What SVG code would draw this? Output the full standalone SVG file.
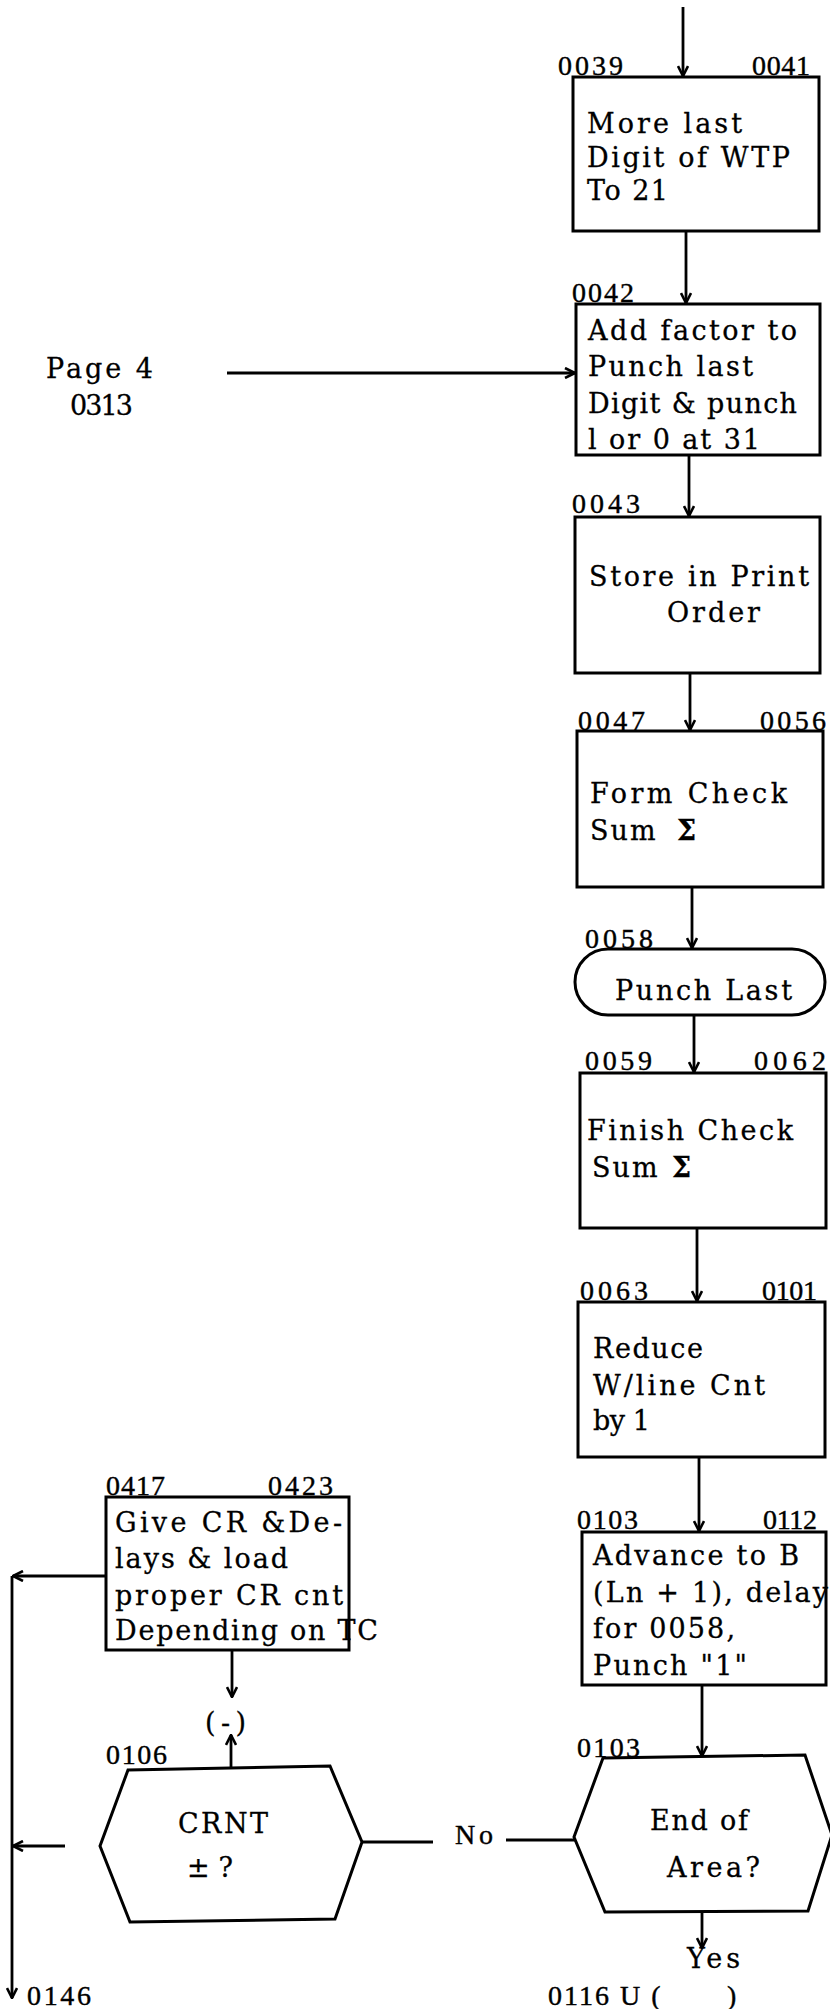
<svg xmlns="http://www.w3.org/2000/svg" width="830" height="2009" viewBox="0 0 830 2009">
<style>
.bg{fill:#fff}
.box{fill:#fff;stroke:#000;stroke-width:3}
.t{font-family:"DejaVu Serif","Liberation Serif",serif;font-size:27px;fill:#000;stroke:#000;stroke-width:0.3}
.l{font-family:"Liberation Serif","DejaVu Serif",serif;font-size:28px;fill:#000;stroke:#000;stroke-width:0.4}
.c{fill:none;stroke:#000;stroke-width:2.8}
.sg{font-weight:bold}
</style>
<defs>
<marker id="ah" viewBox="0 0 12 12" refX="11" refY="6" markerWidth="12" markerHeight="12" markerUnits="userSpaceOnUse" orient="auto">
<path d="M1,1 L11,6 L1,11" fill="none" stroke="#000" stroke-width="2.6"/>
</marker>
</defs>
<rect class="bg" x="0" y="0" width="830" height="2009"/>

<g id="connectors">
<path class="c" d="M683,7 V76" marker-end="url(#ah)"/>
<path class="c" d="M686,231 V303" marker-end="url(#ah)"/>
<path class="c" d="M227,373 H575" marker-end="url(#ah)"/>
<path class="c" d="M689,455 V516" marker-end="url(#ah)"/>
<path class="c" d="M690,673 V730" marker-end="url(#ah)"/>
<path class="c" d="M692,887 V948" marker-end="url(#ah)"/>
<path class="c" d="M694,1015 V1072" marker-end="url(#ah)"/>
<path class="c" d="M697,1228 V1301" marker-end="url(#ah)"/>
<path class="c" d="M699,1457 V1531" marker-end="url(#ah)"/>
<path class="c" d="M702,1685 V1756" marker-end="url(#ah)"/>
<path class="c" d="M702,1912 V1948" marker-end="url(#ah)"/>
<path class="c" d="M575,1840 H506"/>
<path class="c" d="M433,1842 H362"/>
<path class="c" d="M231,1768 V1735" marker-end="url(#ah)"/>
<path class="c" d="M232,1650 V1697" marker-end="url(#ah)"/>
<path class="c" d="M65,1846 H13" marker-end="url(#ah)"/>
<path class="c" d="M106,1576 H13" marker-end="url(#ah)"/>
<path class="c" d="M12,1576 V1998" marker-end="url(#ah)"/>
</g>

<g id="page4">
<text class="t" x="46" y="378" textLength="107" lengthAdjust="spacing">Page 4</text>
<text class="t" x="70" y="415" textLength="63" lengthAdjust="spacing">0313</text>
</g>

<g id="n0039">
<rect class="box" x="573" y="77" width="246" height="154"/>
<text class="l" x="558" y="75" textLength="65" lengthAdjust="spacing">0039</text>
<text class="l" x="752" y="75" textLength="58" lengthAdjust="spacing">0041</text>
<text class="t" x="587" y="133" textLength="155" lengthAdjust="spacing">More last</text>
<text class="t" x="587" y="167" textLength="203" lengthAdjust="spacing">Digit of WTP</text>
<text class="t" x="587" y="200" textLength="81" lengthAdjust="spacing">To 21</text>
</g>

<g id="n0042">
<rect class="box" x="576" y="304" width="244" height="151"/>
<text class="l" x="572" y="302" textLength="62" lengthAdjust="spacing">0042</text>
<text class="t" x="588" y="340" textLength="209" lengthAdjust="spacing">Add factor to</text>
<text class="t" x="588" y="376" textLength="165" lengthAdjust="spacing">Punch last</text>
<text class="t" x="588" y="413" textLength="209" lengthAdjust="spacing">Digit &amp; punch</text>
<text class="t" x="588" y="449" textLength="172" lengthAdjust="spacing">l or 0 at 31</text>
</g>

<g id="n0043">
<rect class="box" x="575" y="517" width="245" height="156"/>
<text class="l" x="572" y="513" textLength="68" lengthAdjust="spacing">0043</text>
<text class="t" x="589" y="586" textLength="220" lengthAdjust="spacing">Store in Print</text>
<text class="t" x="667" y="622" textLength="93" lengthAdjust="spacing">Order</text>
</g>

<g id="n0047">
<rect class="box" x="577" y="731" width="246" height="156"/>
<text class="l" x="578" y="730" textLength="67" lengthAdjust="spacing">0047</text>
<text class="l" x="760" y="730" textLength="66" lengthAdjust="spacing">0056</text>
<text class="t" x="590" y="803" textLength="197" lengthAdjust="spacing">Form Check</text>
<text class="t" x="590" y="840" letter-spacing="2">Sum<tspan class="sg" x="677">Σ</tspan></text>
</g>

<g id="n0058">
<rect class="box" x="575" y="949" width="250" height="66" rx="33" ry="33"/>
<text class="l" x="585" y="948" textLength="68" lengthAdjust="spacing">0058</text>
<text class="t" x="615" y="1000" textLength="177" lengthAdjust="spacing">Punch Last</text>
</g>

<g id="n0059">
<rect class="box" x="580" y="1073" width="246" height="155"/>
<text class="l" x="585" y="1070" textLength="67" lengthAdjust="spacing">0059</text>
<text class="l" x="754" y="1070" textLength="72" lengthAdjust="spacing">0062</text>
<text class="t" x="587" y="1140" textLength="206" lengthAdjust="spacing">Finish Check</text>
<text class="t" x="592" y="1177" letter-spacing="2">Sum<tspan class="sg" x="672">Σ</tspan></text>
</g>

<g id="n0063">
<rect class="box" x="578" y="1302" width="247" height="155"/>
<text class="l" x="580" y="1300" textLength="68" lengthAdjust="spacing">0063</text>
<text class="l" x="762" y="1300" textLength="55" lengthAdjust="spacing">0101</text>
<text class="t" x="593" y="1358" textLength="110" lengthAdjust="spacing">Reduce</text>
<text class="t" x="593" y="1395" textLength="172" lengthAdjust="spacing">W/line Cnt</text>
<text class="t" x="593" y="1430" textLength="57" lengthAdjust="spacing">by 1</text>
</g>

<g id="n0103">
<rect class="box" x="582" y="1532" width="244" height="153"/>
<text class="l" x="577" y="1529" textLength="61" lengthAdjust="spacing">0103</text>
<text class="l" x="763" y="1529" textLength="54" lengthAdjust="spacing">0112</text>
<text class="t" x="593" y="1565" textLength="206" lengthAdjust="spacing">Advance to B</text>
<text class="t" x="593" y="1602" textLength="235" lengthAdjust="spacing">(Ln + 1), delay</text>
<text class="t" x="593" y="1638" textLength="142" lengthAdjust="spacing">for 0058,</text>
<text class="t" x="593" y="1675" textLength="154" lengthAdjust="spacing">Punch "1"</text>
</g>

<g id="n0103end">
<polygon class="box" points="574,1837 603,1758 805,1755 832,1835 808,1911 605,1912"/>
<text class="l" x="577" y="1757" textLength="63" lengthAdjust="spacing">0103</text>
<text class="t" x="650" y="1830" textLength="98" lengthAdjust="spacing">End of</text>
<text class="t" x="667" y="1877" textLength="93" lengthAdjust="spacing">Area?</text>
</g>

<g id="yes">
<text class="t" x="687" y="1968" textLength="53" lengthAdjust="spacing">Yes</text>
<text class="l" x="548" y="2005" letter-spacing="2">0116 U (<tspan x="727">)</tspan></text>
</g>

<g id="n0417">
<rect class="box" x="106" y="1497" width="243" height="153"/>
<text class="l" x="106" y="1495" textLength="59" lengthAdjust="spacing">0417</text>
<text class="l" x="268" y="1495" textLength="65" lengthAdjust="spacing">0423</text>
<text class="t" x="115" y="1532" textLength="227" lengthAdjust="spacing">Give CR &amp;De-</text>
<text class="t" x="115" y="1568" textLength="173" lengthAdjust="spacing">lays &amp; load</text>
<text class="t" x="115" y="1605" textLength="228" lengthAdjust="spacing">proper CR cnt</text>
<text class="t" x="115" y="1640" textLength="263" lengthAdjust="spacing">Depending on TC</text>
</g>

<g id="minus">
<text class="t" x="205" y="1732" textLength="41" lengthAdjust="spacing">(-)</text>
</g>

<g id="n0106">
<polygon class="box" points="100,1846 128,1770 330,1766 362,1842 335,1919 130,1922"/>
<text class="l" x="106" y="1764" textLength="61" lengthAdjust="spacing">0106</text>
<text class="t" x="178" y="1833" textLength="90" lengthAdjust="spacing">CRNT</text>
<text class="t" x="187" y="1877" textLength="46" lengthAdjust="spacing">± ?</text>
</g>

<g id="no">
<text class="l" x="455" y="1844" font-size="30" textLength="38" lengthAdjust="spacing">No</text>
</g>

<g id="exit0146">
<text class="l" x="27" y="2005" textLength="64" lengthAdjust="spacing">0146</text>
</g>
</svg>
